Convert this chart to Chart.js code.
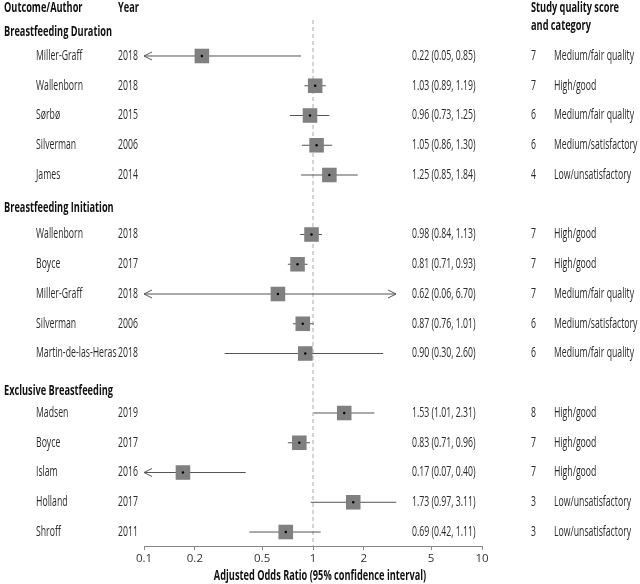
<!DOCTYPE html>
<html><head><meta charset="utf-8">
<script src="https://cdn.jsdelivr.net/npm/chart.js@4"></script>
<style>html,body{margin:0;padding:0;background:#fff;}</style>
</head><body>
<canvas id="c" width="640" height="584"></canvas>
<script>
// ---------- data ----------
const groups = ['Breastfeeding Duration', 'Breastfeeding Initiation', 'Exclusive Breastfeeding'];
const groupRows = [-0.81, 5.1, 11.25];
const authors = ['Miller-Graff','Wallenborn','Sørbø','Silverman','James',
                 'Wallenborn','Boyce','Miller-Graff','Silverman','Martin-de-las-Heras',
                 'Madsen','Boyce','Islam','Holland','Shroff'];
const years = [2018,2018,2015,2006,2014, 2018,2017,2018,2006,2018, 2019,2017,2016,2017,2011];
const rows = [0,1,2,3,4, 6,7,8,9,10, 12,13,14,15,16];
const oddsRatio = [0.22,1.03,0.96,1.05,1.25, 0.98,0.81,0.62,0.87,0.90, 1.53,0.83,0.17,1.73,0.69];
const ciLow  = [0.05,0.89,0.73,0.86,0.85, 0.84,0.71,0.06,0.76,0.30, 1.01,0.71,0.07,0.97,0.42];
const ciHigh = [0.85,1.19,1.25,1.30,1.84, 1.13,0.93,6.70,1.01,2.60, 2.31,0.96,0.40,3.11,1.11];
// extent of the drawn interval lines (arrows mark truncation)
const lineLow  = [0.10,0.89,0.73,0.86,0.85, 0.84,0.71,0.10,0.76,0.30, 1.01,0.71,0.10,0.97,0.42];
const lineHigh = [0.85,1.19,1.25,1.30,1.84, 1.13,0.93,3.10,1.01,2.60, 2.31,0.96,0.40,3.11,1.11];
const arrowLeft  = [1,0,0,0,0, 0,0,1,0,0, 0,0,1,0,0];
const arrowRight = [0,0,0,0,0, 0,0,1,0,0, 0,0,0,0,0];
const qualityScore = [7,7,6,6,4, 7,7,7,6,6, 8,7,7,3,3];
const qualityCategory = ['Medium/fair quality','High/good','Medium/fair quality','Medium/satisfactory','Low/unsatisfactory',
  'High/good','High/good','Medium/fair quality','Medium/satisfactory','Medium/fair quality',
  'High/good','High/good','High/good','Low/unsatisfactory','Low/unsatisfactory'];
const xTicks = [0.1,0.2,0.5,1,2,5,10];
const nullValue = 1;

// ---------- chart ----------
const Y_MIN = -1.21, Y_MAX = 16.47;
const FONT = '"Open Sans", Lato, sans-serif';

const ciDatasets = rows.map((r,i) => ({
  data: [{x: lineLow[i], y: r}, {x: lineHigh[i], y: r}],
  showLine: true, borderColor: '#555', borderWidth: 1, pointRadius: 0, order: 3
}));

let SX = 0.8, SXB = 0.8;
function txt(ctx, s, x, y, bold, align, color) {
  ctx.save();
  ctx.font = (bold ? 'bold ' : '') + '14px ' + FONT;
  ctx.fillStyle = color || (bold ? '#111' : '#2a2a2a');
  ctx.textBaseline = 'middle';
  ctx.textAlign = align || 'left';
  ctx.translate(x, y);
  ctx.scale(bold ? SXB : SX, 1);
  ctx.fillText(s, 0, 0);
  ctx.restore();
}

const textPlugin = {
  id: 'forestText',
  beforeDraw(chart) {
    const ctx = chart.ctx;
    ctx.save();
    ctx.font = '14px ' + FONT;
    SX = 80 / ctx.measureText('Medium/fair quality').width;
    ctx.font = 'bold 14px ' + FONT;
    SXB = 108 / ctx.measureText('Breastfeeding Duration').width;
    ctx.restore();
  },
  afterDatasetsDraw(chart) {
    const ctx = chart.ctx, xs = chart.scales.x, ys = chart.scales.y;
    // arrows
    ctx.save();
    ctx.strokeStyle = '#555'; ctx.lineWidth = 1;
    rows.forEach((r,i) => {
      const y = ys.getPixelForValue(r);
      if (arrowLeft[i]) {
        const x = xs.getPixelForValue(lineLow[i]);
        ctx.beginPath(); ctx.moveTo(x+8, y-4); ctx.lineTo(x, y); ctx.lineTo(x+8, y+4); ctx.stroke();
      }
      if (arrowRight[i]) {
        const x = xs.getPixelForValue(lineHigh[i]);
        ctx.beginPath(); ctx.moveTo(x-8, y-4); ctx.lineTo(x, y); ctx.lineTo(x-8, y+4); ctx.stroke();
      }
    });
    ctx.restore();
    // header
    const hy = 8;
    txt(ctx, 'Outcome/Author', 4, hy, true);
    txt(ctx, 'Year', 118, hy, true);
    txt(ctx, 'Study quality score', 531, hy, true);
    txt(ctx, 'and category', 531, 26, true);
    groups.forEach((g,k) => txt(ctx, g, 4, ys.getPixelForValue(groupRows[k]), true));
    rows.forEach((r,i) => {
      const y = ys.getPixelForValue(r);
      txt(ctx, authors[i], 36, y);
      txt(ctx, String(years[i]), 118, y);
      txt(ctx, oddsRatio[i].toFixed(2) + ' (' + ciLow[i].toFixed(2) + ', ' + ciHigh[i].toFixed(2) + ')', 412, y);
      txt(ctx, String(qualityScore[i]), 531, y);
      txt(ctx, qualityCategory[i], 554, y);
    });
    // axis title
    txt(ctx, 'Adjusted Odds Ratio (95% confidence interval)', (xs.left + xs.right) / 2 + 7, 576, true, 'center');
  }
};

new Chart(document.getElementById('c'), {
  type: 'scatter',
  data: {
    datasets: [
      { data: [{x: nullValue, y: Y_MIN}, {x: nullValue, y: Y_MAX}], showLine: true,
        borderColor: '#aaa', borderWidth: 1, borderDash: [4,3], pointRadius: 0, order: 4 },
      ...ciDatasets,
      { data: rows.map((r,i) => ({x: oddsRatio[i], y: r})), pointStyle: 'rect', pointRadius: 10.3,
        backgroundColor: '#808080', borderWidth: 0, order: 2 },
      { data: rows.map((r,i) => ({x: oddsRatio[i], y: r})), pointStyle: 'circle', pointRadius: 1.2,
        backgroundColor: '#000', borderWidth: 0, order: 1 }
    ]
  },
  options: {
    responsive: false, animation: false, devicePixelRatio: 1,
    layout: { padding: { left: 144, right: 158, top: 20, bottom: 0 } },
    plugins: { legend: { display: false }, tooltip: { enabled: false } },
    scales: {
      x: {
        type: 'logarithmic', min: 0.1, max: 10, position: 'bottom',
        afterBuildTicks: s => { s.ticks = xTicks.map(v => ({ value: v })); },
        afterFit: s => { s.height = 38; },
        ticks: { callback: v => String(v), color: '#333', font: { family: FONT, size: 11.5 }, padding: 2,
                 autoSkip: false, maxRotation: 0 },
        grid: { drawOnChartArea: false, drawTicks: true, tickLength: 4, color: '#888' },
        border: { display: true, color: '#888' }
      },
      y: { type: 'linear', reverse: true, min: Y_MIN, max: Y_MAX, display: false }
    }
  },
  plugins: [textPlugin]
});
</script>
</body></html>
